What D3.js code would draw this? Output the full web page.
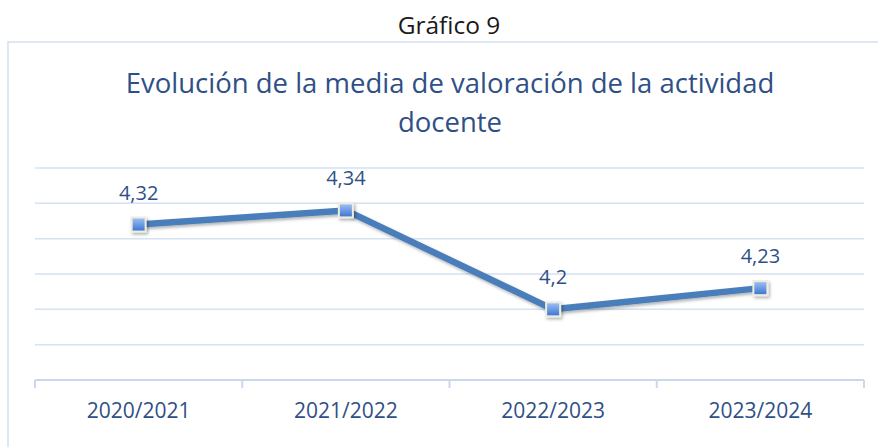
<!DOCTYPE html>
<html>
<head>
<meta charset="utf-8">
<script src="https://cdn.jsdelivr.net/npm/d3@7"></script>
<style>
  body { margin: 0; background: #fff; }
  svg { display: block; }
  text { font-family: "Open Sans", "Noto Sans", sans-serif; }
</style>
</head>
<body>
<svg id="chart" width="878" height="447"></svg>
<script>
//---- Data --------------------------------------------------------------------
var courses = ["2020/2021", "2021/2022", "2022/2023", "2023/2024"];
var means = [4.32, 4.34, 4.2, 4.23];
var yTicks = [4.10, 4.15, 4.20, 4.25, 4.30, 4.35, 4.40];

//---- Layout ------------------------------------------------------------------
var svg = d3.select("#chart");
var margin = { top: 168, right: 14, bottom: 67, left: 35 };
var width = 878 - margin.left - margin.right,
    height = 447 - margin.top - margin.bottom;

var lineBlue = "#4a7ebb";
var textBlue = "#2f5086";
var gridBlue = "#d5e2f2";

var defs = svg.append("defs");
var grad = defs.append("linearGradient")
  .attr("id", "markerFill")
  .attr("x1", 0).attr("y1", 0).attr("x2", 0).attr("y2", 1);
grad.append("stop").attr("offset", "0%").attr("stop-color", "#9cbdf2");
grad.append("stop").attr("offset", "100%").attr("stop-color", "#3f78d2");

var shadow = defs.append("filter").attr("id", "shadow")
  .attr("x", "-20%").attr("y", "-50%").attr("width", "140%").attr("height", "200%");
shadow.append("feDropShadow")
  .attr("dx", 1.5).attr("dy", 2).attr("stdDeviation", 1.5)
  .attr("flood-color", "#000").attr("flood-opacity", 0.3);

// outer frame (runs off right / bottom edge like in the source)
svg.append("rect")
  .attr("x", 8).attr("y", 42)
  .attr("width", 880).attr("height", 420)
  .attr("fill", "none")
  .attr("stroke", "#d3e0f0")
  .attr("stroke-width", 1.5);

svg.append("text")
  .attr("x", 449).attr("y", 34)
  .attr("text-anchor", "middle")
  .attr("font-size", 24.5)
  .attr("fill", "#1a1a1a")
  .text("Gráfico 9");

var title = svg.append("text")
  .attr("text-anchor", "middle")
  .attr("font-size", 27.5)
  .attr("fill", textBlue);
title.append("tspan").attr("x", 450).attr("y", 93)
  .text("Evolución de la media de valoración de la actividad");
title.append("tspan").attr("x", 450).attr("y", 132)
  .text("docente");

var g = svg.append("g")
  .attr("transform", "translate(" + margin.left + "," + margin.top + ")");

var x = d3.scaleBand().domain(courses).range([0, width]);
var y = d3.scaleLinear().domain([4.10, 4.40]).range([height, 0]);

// gridlines
g.append("g")
  .selectAll("line")
  .data(yTicks.slice(1))
  .enter()
  .append("line")
  .attr("x1", 0).attr("x2", width)
  .attr("y1", d => y(d)).attr("y2", d => y(d))
  .attr("stroke", gridBlue)
  .attr("stroke-width", 1.5);

// x axis
var xAxis = g.append("g")
  .attr("transform", "translate(0," + height + ")");
xAxis.append("line")
  .attr("x1", 0).attr("x2", width)
  .attr("stroke", "#c8d9ef").attr("stroke-width", 2);
xAxis.selectAll(".tick")
  .data(courses.map(c => x(c)).concat([width]))
  .enter()
  .append("line")
  .attr("x1", d => d).attr("x2", d => d)
  .attr("y1", 0).attr("y2", 8)
  .attr("stroke", "#c8d9ef").attr("stroke-width", 2);
xAxis.selectAll(".lbl")
  .data(courses)
  .enter()
  .append("text")
  .attr("x", d => x(d) + x.bandwidth() / 2)
  .attr("y", 38)
  .attr("text-anchor", "middle")
  .attr("font-size", 21)
  .attr("fill", textBlue)
  .text(d => d);

// line
var pts = courses.map((c, i) => ({ c: c, v: means[i] }));
g.append("path")
  .datum(pts)
  .attr("d", d3.line()
    .x(d => x(d.c) + x.bandwidth() / 2)
    .y(d => y(d.v)))
  .attr("fill", "none")
  .attr("stroke", lineBlue)
  .attr("stroke-width", 6.5)
  .attr("stroke-linejoin", "round")
  .attr("filter", "url(#shadow)");

// markers
var m = g.append("g").selectAll("g")
  .data(pts)
  .enter()
  .append("g")
  .attr("transform", d => "translate(" + (x(d.c) + x.bandwidth() / 2) + "," + y(d.v) + ")")
  .attr("filter", "url(#shadow)");
m.append("rect")
  .attr("x", -8).attr("y", -8).attr("width", 16).attr("height", 16)
  .attr("fill", "#ecece0");
m.append("rect")
  .attr("x", -6).attr("y", -6).attr("width", 12).attr("height", 12)
  .attr("fill", "url(#markerFill)");

// data labels
g.append("g").selectAll("text")
  .data(pts)
  .enter()
  .append("text")
  .attr("x", d => x(d.c) + x.bandwidth() / 2)
  .attr("y", d => y(d.v) - 25)
  .attr("text-anchor", "middle")
  .attr("font-size", 20)
  .attr("fill", textBlue)
  .text(d => String(d.v).replace(".", ","));
</script>
</body>
</html>
